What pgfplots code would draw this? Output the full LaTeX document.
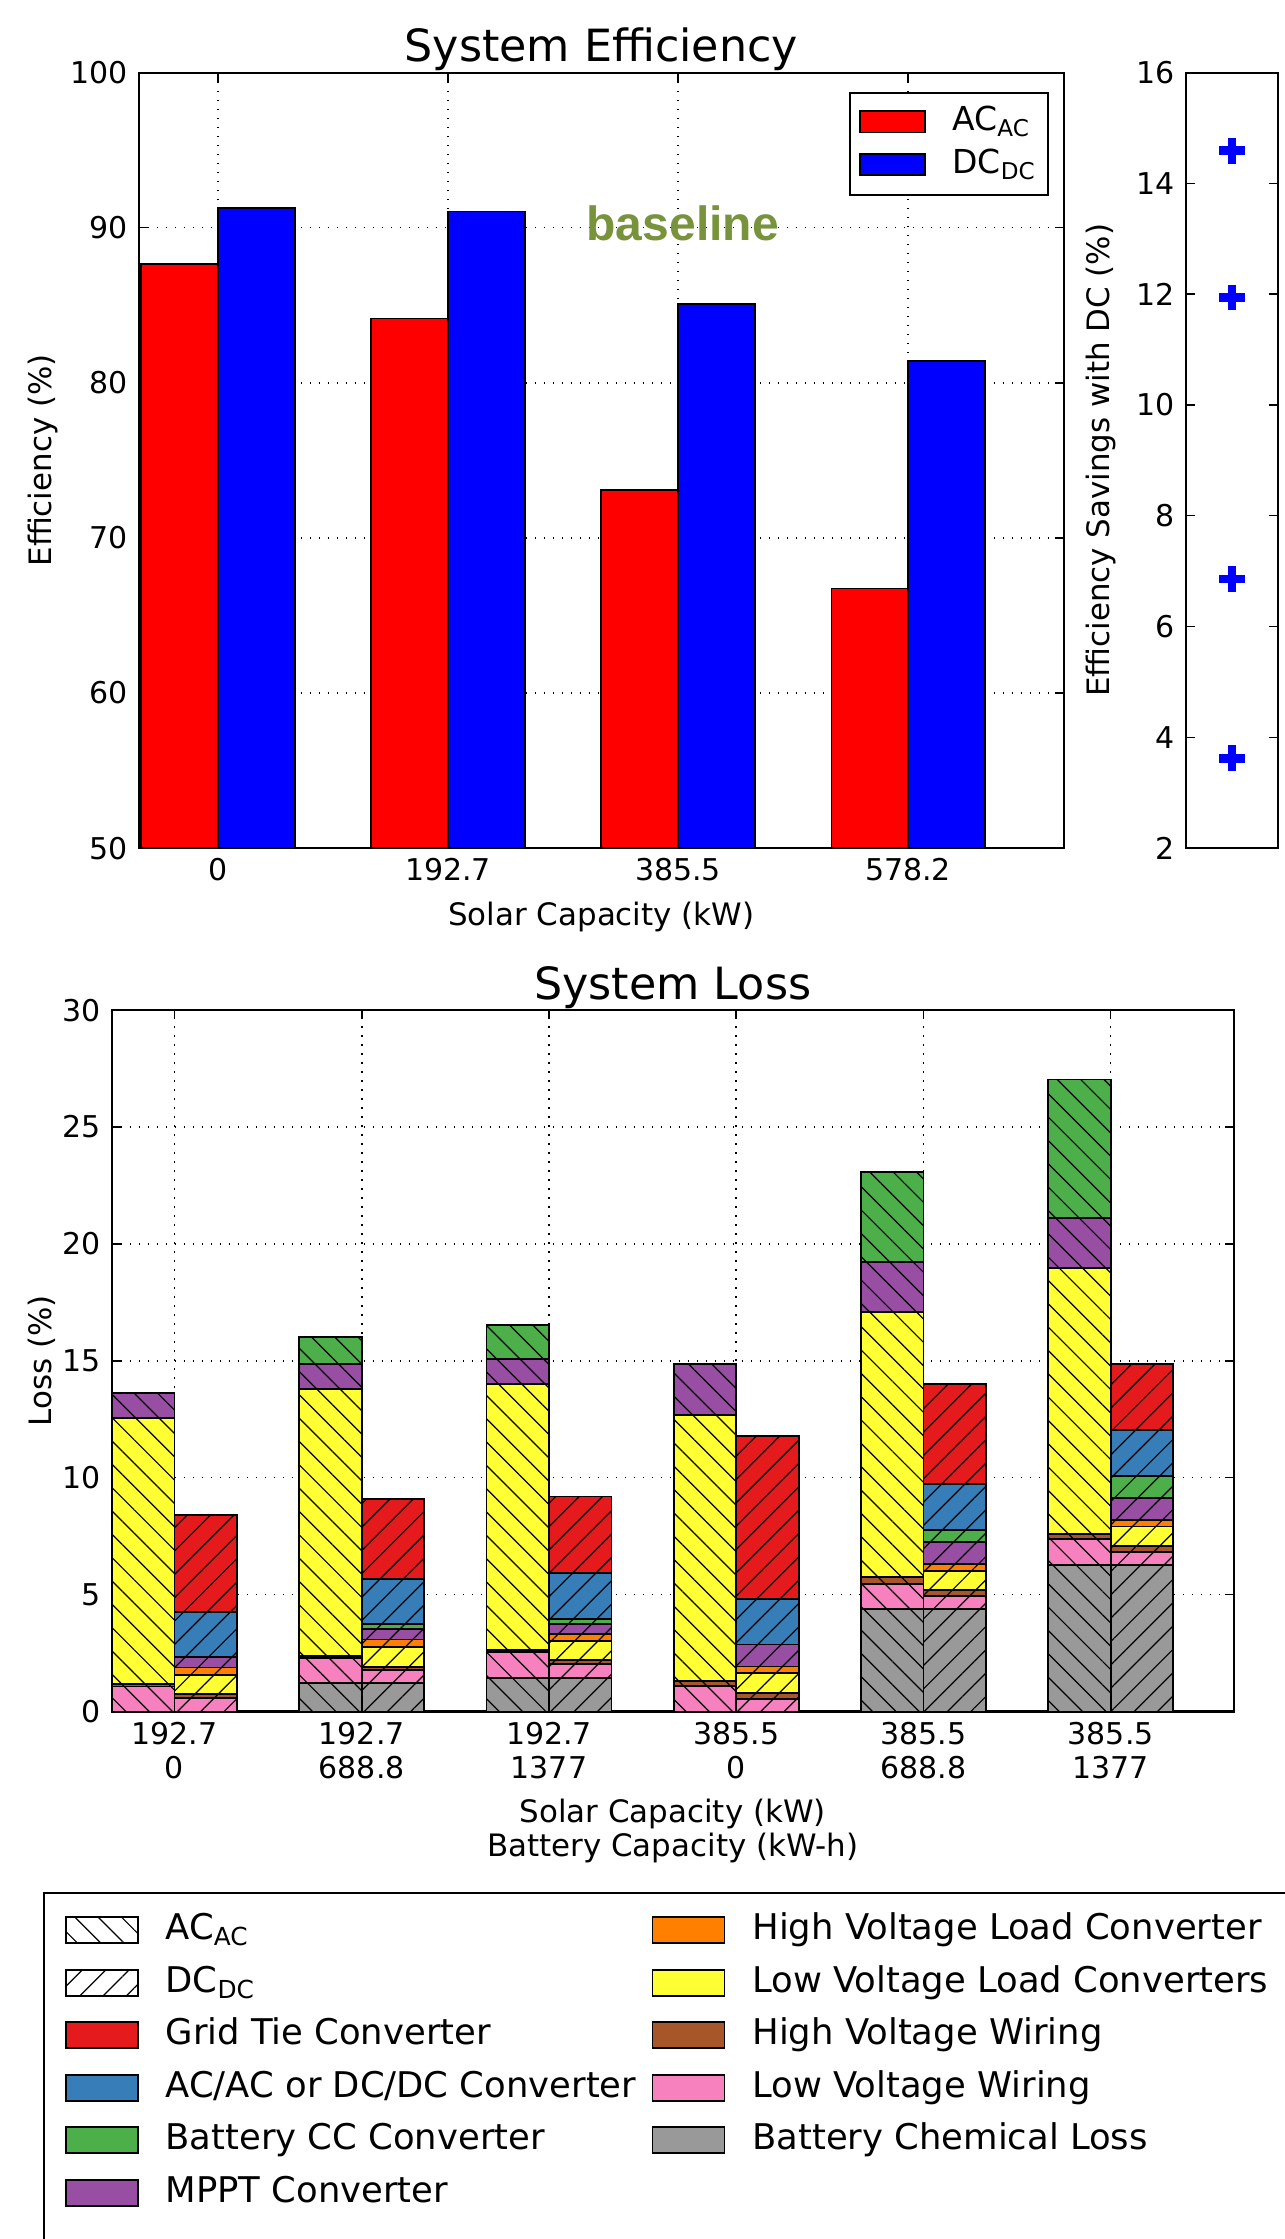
\documentclass[border=0pt]{standalone}
\usepackage{fontspec}
\setmainfont{DejaVu Sans}
\newfontfamily\lsfont{Liberation Sans}
\usepackage{pgfplots}
\pgfplotsset{compat=1.18}
\usepackage{pgfplotstable}
\usetikzlibrary{patterns.meta}

\definecolor{s1red}{HTML}{E41A1C}
\definecolor{s1blue}{HTML}{377EB8}
\definecolor{s1green}{HTML}{4DAF4A}
\definecolor{s1purple}{HTML}{984EA3}
\definecolor{s1orange}{HTML}{FF7F00}
\definecolor{s1yellow}{HTML}{FFFF33}
\definecolor{s1brown}{HTML}{A65628}
\definecolor{s1pink}{HTML}{F781BF}
\definecolor{s1gray}{HTML}{999999}
\definecolor{olivegr}{HTML}{77933C}

\pgfplotsset{
  achatch/.style={postaction={pattern={Lines[angle=-45,distance=5.5pt,line width=0.4pt]},pattern color=black}},
  dchatch/.style={postaction={pattern={Lines[angle=45,distance=5.5pt,line width=0.4pt]},pattern color=black}},
  bigbox/.style={legend image code/.code={\draw[##1] (0pt,-4.1pt) rectangle (24pt,4.5pt); \path (32pt,0pt);}},
  smallbox/.style={legend image code/.code={\draw[##1] (0pt,-3.3pt) rectangle (21.7pt,3.9pt); \path (29.6pt,0pt);}},
  myaxis/.style={
    scale only axis,
    /pgf/number format/assume math mode=true,
    axis line style={line width=0.7pt},
    tick style={line width=0.5pt, black},
    major tick length=3pt,
    tick align=inside,
    grid style={black, line width=0.5pt, dash pattern=on 0.5pt off 2.5pt},
    tick label style={font=\fontsize{10}{11.3}\selectfont},
    label style={font=\fontsize{10.3}{11.3}\selectfont},
    title style={font=\fontsize{14.8}{16}\selectfont, yshift=-9pt},
  },
}

\pgfplotstableread{
x gray pink brown yellow orange purple green blue red
-0.1667 0 1.07 0.11 11.36 0 1.10 0 0 0
0.8333 1.21 1.07 0.11 11.39 0 1.07 1.16 0 0
1.8333 1.43 1.12 0.09 11.37 0 1.08 1.43 0 0
2.8333 0 1.08 0.23 11.36 0 2.18 0 0 0
3.8333 4.37 1.10 0.28 11.34 0 2.15 3.85 0 0
4.8333 6.27 1.12 0.21 11.36 0 2.16 5.91 0 0
0.1667 0 0 0 0 0 0 0 0 0
1.1667 0 0 0 0 0 0 0 0 0
2.1667 0 0 0 0 0 0 0 0 0
3.1667 0 0 0 0 0 0 0 0 0
4.1667 0 0 0 0 0 0 0 0 0
5.1667 0 0 0 0 0 0 0 0 0
}\tabAC

\pgfplotstableread{
x gray pink brown yellow orange purple green blue red
-0.1667 0 0 0 0 0 0 0 0 0
0.8333 0 0 0 0 0 0 0 0 0
1.8333 0 0 0 0 0 0 0 0 0
2.8333 0 0 0 0 0 0 0 0 0
3.8333 0 0 0 0 0 0 0 0 0
4.8333 0 0 0 0 0 0 0 0 0
0.1667 0 0.57 0.17 0.83 0.31 0.44 0 1.95 4.14
1.1667 1.21 0.57 0.14 0.83 0.33 0.44 0.21 1.93 3.42
2.1667 1.43 0.59 0.17 0.81 0.33 0.43 0.21 1.95 3.28
3.1667 0 0.54 0.25 0.85 0.29 0.94 0 1.93 6.97
4.1667 4.37 0.58 0.24 0.82 0.30 0.93 0.54 1.95 4.27
5.1667 6.27 0.57 0.25 0.82 0.28 0.95 0.93 1.97 2.84
}\tabDC

\begin{document}
\begin{tikzpicture}
% ---------------- top: system efficiency
\begin{axis}[myaxis,
  at={(46.2pt,-24.2pt)}, anchor=north west,
  width=308.5pt, height=258.5pt,
  xmin=-0.345, xmax=3.678, ymin=50, ymax=100,
  xtick={0,1,2,3}, xticklabels={0,192.7,385.5,578.2},
  ytick={50,60,70,80,90,100},
  xmajorgrids, ymajorgrids,
  title={System Efficiency},
  xlabel={Solar Capacity (kW)},
  ylabel={Efficiency (\%)},
  ylabel shift=-2.5pt,
  legend cell align=left,
  legend style={at={(rel axis cs:1,1)}, anchor=north east, xshift=-5pt, yshift=-6.6pt,
    draw=black, line width=0.6pt, inner xsep=3pt, inner ysep=3.5pt, row sep=1.8pt,
    column sep=0pt, font=\fontsize{11}{13}\selectfont,
    nodes={inner sep=1pt, text height=8pt, text depth=2.5pt}},
]
\addplot[ybar, bar width=0.3333, bar shift=0, fill=red, draw=black, line width=0.6pt, forget plot]
  coordinates {(-0.1667,87.66) (0.8333,84.15) (1.8333,73.09) (2.8333,66.74)};
\addplot[ybar, bar width=0.3333, bar shift=0, fill=blue, draw=black, line width=0.6pt, forget plot]
  coordinates {(0.1667,91.29) (1.1667,91.04) (2.1667,85.07) (3.1667,81.38)};
\addlegendimage{smallbox, fill=red, draw=black, line width=0.6pt}
\addlegendentry{AC\textsubscript{AC}}
\addlegendimage{smallbox, fill=blue, draw=black, line width=0.6pt}
\addlegendentry{DC\textsubscript{DC}}
\node[font=\lsfont\bfseries\fontsize{16}{18}\selectfont, text=olivegr] at (axis cs:2.02,90.3) {baseline};
\end{axis}

% ---------------- right: savings
\begin{axis}[myaxis,
  at={(395.2pt,-24.2pt)}, anchor=north west,
  width=30.8pt, height=258.5pt,
  xmin=-1, xmax=1, ymin=2, ymax=16,
  xtick=\empty, ytick={2,4,...,16},
  ylabel={Efficiency Savings with DC (\%)},
]
\addplot[only marks, mark=+, mark size=4.3pt, color=blue, mark options={line width=2.8pt, draw=blue}]
  coordinates {(0,3.62) (0,6.86) (0,11.94) (0,14.59)};
\end{axis}

% ---------------- bottom: system loss
\begin{axis}[myaxis,
  at={(37.2pt,-336.7pt)}, anchor=north west,
  width=374.1pt, height=233.8pt,
  xmin=-0.336, xmax=5.658, ymin=0, ymax=30,
  xtick={0,1,2,3,4,5},
  xticklabels={{192.7\\0},{192.7\\688.8},{192.7\\1377},{385.5\\0},{385.5\\688.8},{385.5\\1377}},
  xticklabel style={align=center},
  ytick={0,5,...,30},
  xmajorgrids, ymajorgrids,
  ybar stacked, bar width=0.3333,
  title={System Loss},
  xlabel={Solar Capacity (kW)\\Battery Capacity (kW-h)},
  xlabel style={align=center},
  ylabel={Loss (\%)},
  ylabel shift=-4.5pt,
]
\addplot[fill=s1gray, draw=black, line width=0.6pt, achatch] table[x=x,y=gray]{\tabAC};
\addplot[fill=s1pink, draw=black, line width=0.6pt, achatch] table[x=x,y=pink]{\tabAC};
\addplot[fill=s1brown, draw=black, line width=0.6pt, achatch] table[x=x,y=brown]{\tabAC};
\addplot[fill=s1yellow, draw=black, line width=0.6pt, achatch] table[x=x,y=yellow]{\tabAC};
\addplot[fill=s1orange, draw=black, line width=0.6pt, achatch] table[x=x,y=orange]{\tabAC};
\addplot[fill=s1purple, draw=black, line width=0.6pt, achatch] table[x=x,y=purple]{\tabAC};
\addplot[fill=s1green, draw=black, line width=0.6pt, achatch] table[x=x,y=green]{\tabAC};
\addplot[fill=s1blue, draw=black, line width=0.6pt, achatch] table[x=x,y=blue]{\tabAC};
\addplot[fill=s1red, draw=black, line width=0.6pt, achatch] table[x=x,y=red]{\tabAC};
\addplot[fill=s1gray, draw=black, line width=0.6pt, dchatch] table[x=x,y=gray]{\tabDC};
\addplot[fill=s1pink, draw=black, line width=0.6pt, dchatch] table[x=x,y=pink]{\tabDC};
\addplot[fill=s1brown, draw=black, line width=0.6pt, dchatch] table[x=x,y=brown]{\tabDC};
\addplot[fill=s1yellow, draw=black, line width=0.6pt, dchatch] table[x=x,y=yellow]{\tabDC};
\addplot[fill=s1orange, draw=black, line width=0.6pt, dchatch] table[x=x,y=orange]{\tabDC};
\addplot[fill=s1purple, draw=black, line width=0.6pt, dchatch] table[x=x,y=purple]{\tabDC};
\addplot[fill=s1green, draw=black, line width=0.6pt, dchatch] table[x=x,y=green]{\tabDC};
\addplot[fill=s1blue, draw=black, line width=0.6pt, dchatch] table[x=x,y=blue]{\tabDC};
\addplot[fill=s1red, draw=black, line width=0.6pt, dchatch] table[x=x,y=red]{\tabDC};
\end{axis}

% ---------------- legend (hidden axis)
\begin{axis}[
  at={(14.4pt,-630.7pt)}, anchor=north west, scale only axis,
  width=20pt, height=20pt, hide axis,
  xmin=0, xmax=1, ymin=0, ymax=1,
  legend columns=2, legend cell align=left,
  legend style={at={(rel axis cs:0,1)}, anchor=north west,
    draw=black, line width=0.6pt, inner xsep=6.9pt, inner ysep=6pt, row sep=4.3pt,
    column sep=0pt, font=\fontsize{11.8}{13}\selectfont,
    nodes={inner sep=1pt, text height=8.6pt, text depth=2.6pt}},
]
\addlegendimage{bigbox, fill=white, draw=black, line width=0.6pt, achatch}
\addlegendentry{\makebox[161pt][l]{AC\textsubscript{AC}}}
\addlegendimage{bigbox, fill=s1orange, draw=black, line width=0.6pt}
\addlegendentry{\makebox[180pt][l]{High Voltage Load Converter}}
\addlegendimage{bigbox, fill=white, draw=black, line width=0.6pt, dchatch}
\addlegendentry{\makebox[161pt][l]{DC\textsubscript{DC}}}
\addlegendimage{bigbox, fill=s1yellow, draw=black, line width=0.6pt}
\addlegendentry{\makebox[180pt][l]{Low Voltage Load Converters}}
\addlegendimage{bigbox, fill=s1red, draw=black, line width=0.6pt}
\addlegendentry{\makebox[161pt][l]{Grid Tie Converter}}
\addlegendimage{bigbox, fill=s1brown, draw=black, line width=0.6pt}
\addlegendentry{\makebox[180pt][l]{High Voltage Wiring}}
\addlegendimage{bigbox, fill=s1blue, draw=black, line width=0.6pt}
\addlegendentry{\makebox[161pt][l]{AC/AC or DC/DC Converter}}
\addlegendimage{bigbox, fill=s1pink, draw=black, line width=0.6pt}
\addlegendentry{\makebox[180pt][l]{Low Voltage Wiring}}
\addlegendimage{bigbox, fill=s1green, draw=black, line width=0.6pt}
\addlegendentry{\makebox[161pt][l]{Battery CC Converter}}
\addlegendimage{bigbox, fill=s1gray, draw=black, line width=0.6pt}
\addlegendentry{\makebox[180pt][l]{Battery Chemical Loss}}
\addlegendimage{bigbox, fill=s1purple, draw=black, line width=0.6pt}
\addlegendentry{\makebox[161pt][l]{MPPT Converter}}
\addlegendimage{empty legend}
\addlegendentry{}
\addlegendimage{empty legend}
\addlegendentry{}
\end{axis}

\pgfresetboundingbox
\useasboundingbox (0pt,0pt) rectangle (428pt,-746.33pt);
\end{tikzpicture}
\end{document}
